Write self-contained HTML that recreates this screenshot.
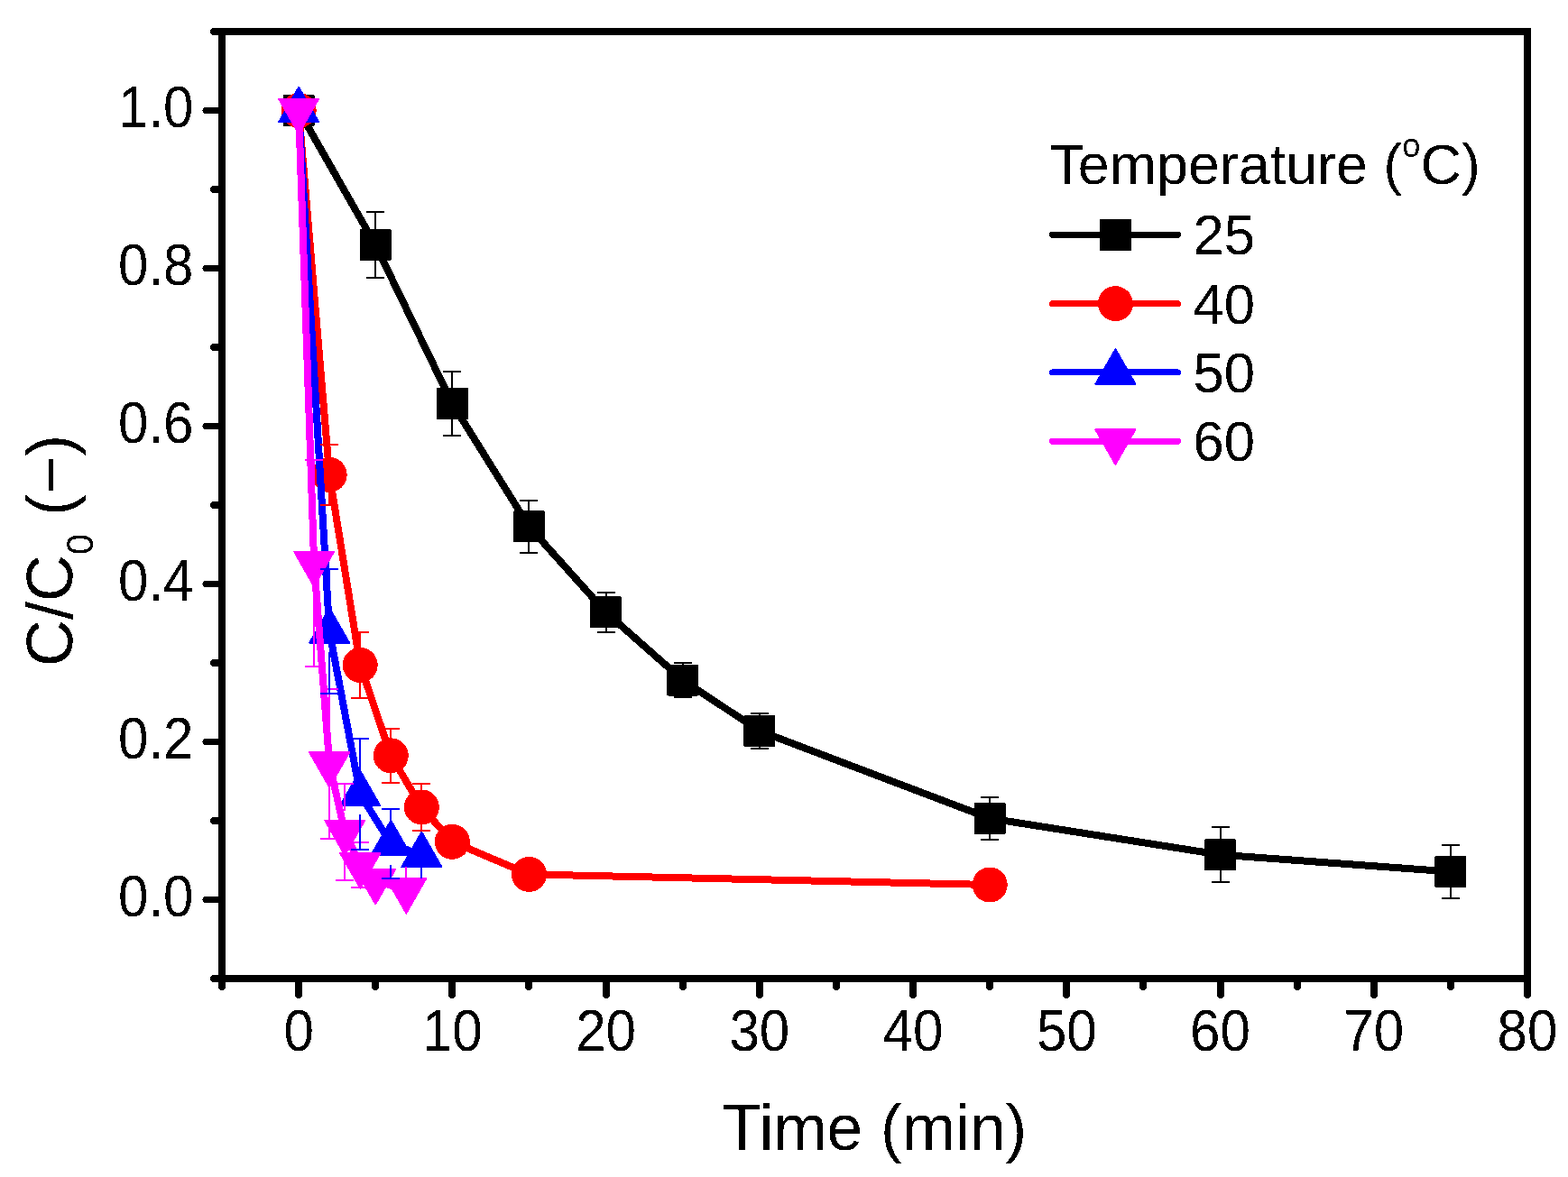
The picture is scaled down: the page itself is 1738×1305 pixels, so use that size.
<!DOCTYPE html>
<html><head><meta charset="utf-8"><title>C/C0 vs Time</title>
<style>
html,body{margin:0;padding:0;background:#fff;}
body{width:1738px;height:1305px;overflow:hidden;}
svg{display:block;}
</style></head>
<body>
<svg width="1738" height="1305" viewBox="0 0 1738 1305" shape-rendering="crispEdges">
<rect x="0" y="0" width="1738" height="1305" fill="#fff"/>
<defs><filter id="alias" x="-5%" y="-5%" width="110%" height="110%" color-interpolation-filters="sRGB"><feComponentTransfer><feFuncA type="discrete" tableValues="0 1"/></feComponentTransfer></filter></defs>
<g stroke="#000" stroke-width="8" fill="none" stroke-linecap="round">
<rect x="246.0" y="35.0" width="1447.0" height="1050.0" stroke-linejoin="miter" stroke-linecap="butt"/>
<line x1="246.0" y1="997.5" x2="228.00" y2="997.5" stroke-width="7"/>
<line x1="246.0" y1="822.5" x2="228.00" y2="822.5" stroke-width="7"/>
<line x1="246.0" y1="647.5" x2="228.00" y2="647.5" stroke-width="7"/>
<line x1="246.0" y1="472.5" x2="228.00" y2="472.5" stroke-width="7"/>
<line x1="246.0" y1="297.5" x2="228.00" y2="297.5" stroke-width="7"/>
<line x1="246.0" y1="122.5" x2="228.00" y2="122.5" stroke-width="7"/>
<line x1="246.0" y1="1085.0" x2="237.00" y2="1085.0" stroke-width="8"/>
<line x1="246.0" y1="910.0" x2="237.00" y2="910.0" stroke-width="8"/>
<line x1="246.0" y1="735.0" x2="237.00" y2="735.0" stroke-width="8"/>
<line x1="246.0" y1="560.0" x2="237.00" y2="560.0" stroke-width="8"/>
<line x1="246.0" y1="385.0" x2="237.00" y2="385.0" stroke-width="8"/>
<line x1="246.0" y1="210.0" x2="237.00" y2="210.0" stroke-width="8"/>
<line x1="246.0" y1="35.0" x2="237.00" y2="35.0" stroke-width="8"/>
<line x1="331.0" y1="1085.0" x2="331.0" y2="1103.00" stroke-width="8"/>
<line x1="501.0" y1="1085.0" x2="501.0" y2="1103.00" stroke-width="8"/>
<line x1="672.0" y1="1085.0" x2="672.0" y2="1103.00" stroke-width="8"/>
<line x1="842.0" y1="1085.0" x2="842.0" y2="1103.00" stroke-width="8"/>
<line x1="1012.0" y1="1085.0" x2="1012.0" y2="1103.00" stroke-width="8"/>
<line x1="1182.0" y1="1085.0" x2="1182.0" y2="1103.00" stroke-width="8"/>
<line x1="1353.0" y1="1085.0" x2="1353.0" y2="1103.00" stroke-width="8"/>
<line x1="1523.0" y1="1085.0" x2="1523.0" y2="1103.00" stroke-width="8"/>
<line x1="1693.0" y1="1085.0" x2="1693.0" y2="1103.00" stroke-width="8"/>
<line x1="246.0" y1="1085.0" x2="246.0" y2="1094.00" stroke-width="8"/>
<line x1="416.0" y1="1085.0" x2="416.0" y2="1094.00" stroke-width="8"/>
<line x1="586.0" y1="1085.0" x2="586.0" y2="1094.00" stroke-width="8"/>
<line x1="757.0" y1="1085.0" x2="757.0" y2="1094.00" stroke-width="8"/>
<line x1="927.0" y1="1085.0" x2="927.0" y2="1094.00" stroke-width="8"/>
<line x1="1097.0" y1="1085.0" x2="1097.0" y2="1094.00" stroke-width="8"/>
<line x1="1267.0" y1="1085.0" x2="1267.0" y2="1094.00" stroke-width="8"/>
<line x1="1438.0" y1="1085.0" x2="1438.0" y2="1094.00" stroke-width="8"/>
<line x1="1608.0" y1="1085.0" x2="1608.0" y2="1094.00" stroke-width="8"/>
</g>
<g font-family="'Liberation Sans', Arial, Helvetica, sans-serif" font-size="65.0" fill="#000" filter="url(#alias)">
<text transform="translate(214.5,1016.35) scale(0.9246,1)" text-anchor="end">0.0</text>
<text transform="translate(214.5,841.35) scale(0.9246,1)" text-anchor="end">0.2</text>
<text transform="translate(214.5,666.35) scale(0.9246,1)" text-anchor="end">0.4</text>
<text transform="translate(214.5,491.35) scale(0.9246,1)" text-anchor="end">0.6</text>
<text transform="translate(214.5,316.35) scale(0.9246,1)" text-anchor="end">0.8</text>
<text transform="translate(214.5,141.35) scale(0.9246,1)" text-anchor="end">1.0</text>
<text transform="translate(331.12,1165.3) scale(0.9246,1)" text-anchor="middle">0</text>
<text transform="translate(501.35,1165.3) scale(0.9246,1)" text-anchor="middle">10</text>
<text transform="translate(671.59,1165.3) scale(0.9246,1)" text-anchor="middle">20</text>
<text transform="translate(841.82,1165.3) scale(0.9246,1)" text-anchor="middle">30</text>
<text transform="translate(1012.06,1165.3) scale(0.9246,1)" text-anchor="middle">40</text>
<text transform="translate(1182.29,1165.3) scale(0.9246,1)" text-anchor="middle">50</text>
<text transform="translate(1352.53,1165.3) scale(0.9246,1)" text-anchor="middle">60</text>
<text transform="translate(1522.76,1165.3) scale(0.9246,1)" text-anchor="middle">70</text>
<text transform="translate(1693.00,1165.3) scale(0.9246,1)" text-anchor="middle">80</text>
</g>
<text filter="url(#alias)" transform="translate(800.5,1274.5) scale(0.99,1)" font-family="'Liberation Sans', Arial, Helvetica, sans-serif" font-size="72">Time (min)</text>
<text filter="url(#alias)" transform="translate(80.2,739.2) rotate(-90)" font-family="'Liberation Sans', Arial, Helvetica, sans-serif" font-size="72">C/C<tspan font-size="41.8" dy="23">0</tspan><tspan dy="-23"> (−)</tspan></text>
<polyline points="331.12,122.50 416.24,271.70 501.35,447.50 586.47,583.90 671.59,678.90 756.71,754.00 841.82,810.40 1097.18,907.40 1352.53,947.70 1607.88,966.50" fill="none" stroke="#000000" stroke-width="8" stroke-linejoin="round" stroke-linecap="round"/>
<rect x="313.62" y="105.00" width="35.0" height="35.0" rx="1.5" fill="#000000"/><rect x="398.74" y="254.20" width="35.0" height="35.0" rx="1.5" fill="#000000"/><rect x="483.85" y="430.00" width="35.0" height="35.0" rx="1.5" fill="#000000"/><rect x="568.97" y="566.40" width="35.0" height="35.0" rx="1.5" fill="#000000"/><rect x="654.09" y="661.40" width="35.0" height="35.0" rx="1.5" fill="#000000"/><rect x="739.21" y="736.50" width="35.0" height="35.0" rx="1.5" fill="#000000"/><rect x="824.32" y="792.90" width="35.0" height="35.0" rx="1.5" fill="#000000"/><rect x="1079.68" y="889.90" width="35.0" height="35.0" rx="1.5" fill="#000000"/><rect x="1335.03" y="930.20" width="35.0" height="35.0" rx="1.5" fill="#000000"/><rect x="1590.38" y="949.00" width="35.0" height="35.0" rx="1.5" fill="#000000"/>
<polyline points="331.12,122.50 365.16,526.40 399.21,737.40 433.26,837.80 467.31,894.90 501.35,933.30 586.47,969.40 1097.18,981.00" fill="none" stroke="#ff0000" stroke-width="8" stroke-linejoin="round" stroke-linecap="round"/>
<circle cx="331.12" cy="122.50" r="19.5" fill="#ff0000"/><circle cx="365.16" cy="526.40" r="19.5" fill="#ff0000"/><circle cx="399.21" cy="737.40" r="19.5" fill="#ff0000"/><circle cx="433.26" cy="837.80" r="19.5" fill="#ff0000"/><circle cx="467.31" cy="894.90" r="19.5" fill="#ff0000"/><circle cx="501.35" cy="933.30" r="19.5" fill="#ff0000"/><circle cx="586.47" cy="969.40" r="19.5" fill="#ff0000"/><circle cx="1097.18" cy="981.00" r="19.5" fill="#ff0000"/>
<polyline points="331.12,122.50 365.16,699.90 399.21,880.40 433.26,935.50 467.31,948.30" fill="none" stroke="#0000ff" stroke-width="8" stroke-linejoin="round" stroke-linecap="round"/>
<polygon points="331.12,96.83 353.12,135.33 309.12,135.33" fill="#0000ff" stroke="#0000ff" stroke-width="2" stroke-linejoin="round"/><polygon points="365.16,674.23 387.16,712.73 343.16,712.73" fill="#0000ff" stroke="#0000ff" stroke-width="2" stroke-linejoin="round"/><polygon points="399.21,854.73 421.21,893.23 377.21,893.23" fill="#0000ff" stroke="#0000ff" stroke-width="2" stroke-linejoin="round"/><polygon points="433.26,909.83 455.26,948.33 411.26,948.33" fill="#0000ff" stroke="#0000ff" stroke-width="2" stroke-linejoin="round"/><polygon points="467.31,922.63 489.31,961.13 445.31,961.13" fill="#0000ff" stroke="#0000ff" stroke-width="2" stroke-linejoin="round"/>
<polyline points="331.12,122.50 348.14,624.40 365.16,847.00 382.19,922.40 399.21,959.00 416.24,976.60 450.28,986.90" fill="none" stroke="#ff00ff" stroke-width="8" stroke-linejoin="round" stroke-linecap="round"/>
<polygon points="331.12,148.17 353.12,109.67 309.12,109.67" fill="#ff00ff" stroke="#ff00ff" stroke-width="2" stroke-linejoin="round"/><polygon points="348.14,650.07 370.14,611.57 326.14,611.57" fill="#ff00ff" stroke="#ff00ff" stroke-width="2" stroke-linejoin="round"/><polygon points="365.16,872.67 387.16,834.17 343.16,834.17" fill="#ff00ff" stroke="#ff00ff" stroke-width="2" stroke-linejoin="round"/><polygon points="382.19,948.07 404.19,909.57 360.19,909.57" fill="#ff00ff" stroke="#ff00ff" stroke-width="2" stroke-linejoin="round"/><polygon points="399.21,984.67 421.21,946.17 377.21,946.17" fill="#ff00ff" stroke="#ff00ff" stroke-width="2" stroke-linejoin="round"/><polygon points="416.24,1002.27 438.24,963.77 394.24,963.77" fill="#ff00ff" stroke="#ff00ff" stroke-width="2" stroke-linejoin="round"/><polygon points="450.28,1012.57 472.28,974.07 428.28,974.07" fill="#ff00ff" stroke="#ff00ff" stroke-width="2" stroke-linejoin="round"/>
<g stroke="#000000" stroke-width="2.0" fill="none"><line x1="416.24" y1="254.20" x2="416.24" y2="235.40"/><line x1="406.24" y1="235.40" x2="426.24" y2="235.40"/><line x1="416.24" y1="289.20" x2="416.24" y2="308.00"/><line x1="406.24" y1="308.00" x2="426.24" y2="308.00"/><line x1="501.35" y1="430.00" x2="501.35" y2="412.40"/><line x1="491.35" y1="412.40" x2="511.35" y2="412.40"/><line x1="501.35" y1="465.00" x2="501.35" y2="482.60"/><line x1="491.35" y1="482.60" x2="511.35" y2="482.60"/><line x1="586.47" y1="566.40" x2="586.47" y2="554.90"/><line x1="576.47" y1="554.90" x2="596.47" y2="554.90"/><line x1="586.47" y1="601.40" x2="586.47" y2="612.90"/><line x1="576.47" y1="612.90" x2="596.47" y2="612.90"/><line x1="671.59" y1="661.40" x2="671.59" y2="656.90"/><line x1="661.59" y1="656.90" x2="681.59" y2="656.90"/><line x1="671.59" y1="696.40" x2="671.59" y2="700.90"/><line x1="661.59" y1="700.90" x2="681.59" y2="700.90"/><line x1="756.71" y1="736.50" x2="756.71" y2="735.00"/><line x1="746.71" y1="735.00" x2="766.71" y2="735.00"/><line x1="756.71" y1="771.50" x2="756.71" y2="773.00"/><line x1="746.71" y1="773.00" x2="766.71" y2="773.00"/><line x1="841.82" y1="792.90" x2="841.82" y2="791.00"/><line x1="831.82" y1="791.00" x2="851.82" y2="791.00"/><line x1="841.82" y1="827.90" x2="841.82" y2="829.80"/><line x1="831.82" y1="829.80" x2="851.82" y2="829.80"/><line x1="1097.18" y1="889.90" x2="1097.18" y2="883.90"/><line x1="1087.18" y1="883.90" x2="1107.18" y2="883.90"/><line x1="1097.18" y1="924.90" x2="1097.18" y2="930.90"/><line x1="1087.18" y1="930.90" x2="1107.18" y2="930.90"/><line x1="1352.53" y1="930.20" x2="1352.53" y2="917.10"/><line x1="1342.53" y1="917.10" x2="1362.53" y2="917.10"/><line x1="1352.53" y1="965.20" x2="1352.53" y2="978.30"/><line x1="1342.53" y1="978.30" x2="1362.53" y2="978.30"/><line x1="1607.88" y1="949.00" x2="1607.88" y2="936.80"/><line x1="1597.88" y1="936.80" x2="1617.88" y2="936.80"/><line x1="1607.88" y1="984.00" x2="1607.88" y2="996.20"/><line x1="1597.88" y1="996.20" x2="1617.88" y2="996.20"/></g>
<g stroke="#ff0000" stroke-width="2.0" fill="none"><line x1="365.16" y1="506.90" x2="365.16" y2="493.00"/><line x1="355.16" y1="493.00" x2="375.16" y2="493.00"/><line x1="365.16" y1="545.90" x2="365.16" y2="559.80"/><line x1="355.16" y1="559.80" x2="375.16" y2="559.80"/><line x1="399.21" y1="717.90" x2="399.21" y2="701.00"/><line x1="389.21" y1="701.00" x2="409.21" y2="701.00"/><line x1="399.21" y1="756.90" x2="399.21" y2="773.80"/><line x1="389.21" y1="773.80" x2="409.21" y2="773.80"/><line x1="433.26" y1="818.30" x2="433.26" y2="807.80"/><line x1="423.26" y1="807.80" x2="443.26" y2="807.80"/><line x1="433.26" y1="857.30" x2="433.26" y2="867.80"/><line x1="423.26" y1="867.80" x2="443.26" y2="867.80"/><line x1="467.31" y1="875.40" x2="467.31" y2="868.90"/><line x1="457.31" y1="868.90" x2="477.31" y2="868.90"/><line x1="467.31" y1="914.40" x2="467.31" y2="920.90"/><line x1="457.31" y1="920.90" x2="477.31" y2="920.90"/></g>
<g stroke="#ff00ff" stroke-width="2.0" fill="none"><line x1="348.14" y1="601.40" x2="348.14" y2="509.90"/><line x1="338.14" y1="509.90" x2="358.14" y2="509.90"/><line x1="348.14" y1="647.40" x2="348.14" y2="738.90"/><line x1="338.14" y1="738.90" x2="358.14" y2="738.90"/><line x1="365.16" y1="824.00" x2="365.16" y2="763.90"/><line x1="355.16" y1="763.90" x2="375.16" y2="763.90"/><line x1="365.16" y1="870.00" x2="365.16" y2="930.10"/><line x1="355.16" y1="930.10" x2="375.16" y2="930.10"/><line x1="382.19" y1="899.40" x2="382.19" y2="868.70"/><line x1="372.19" y1="868.70" x2="392.19" y2="868.70"/><line x1="382.19" y1="945.40" x2="382.19" y2="976.10"/><line x1="372.19" y1="976.10" x2="392.19" y2="976.10"/><line x1="399.21" y1="936.00" x2="399.21" y2="933.90"/><line x1="389.21" y1="933.90" x2="409.21" y2="933.90"/><line x1="399.21" y1="982.00" x2="399.21" y2="984.10"/><line x1="389.21" y1="984.10" x2="409.21" y2="984.10"/><line x1="450.28" y1="974.00" x2="450.28" y2="961.00"/></g>
<g stroke="#0000ff" stroke-width="2.0" fill="none"><line x1="365.16" y1="676.90" x2="365.16" y2="631.10"/><line x1="355.16" y1="631.10" x2="375.16" y2="631.10"/><line x1="365.16" y1="722.90" x2="365.16" y2="768.70"/><line x1="355.16" y1="768.70" x2="375.16" y2="768.70"/><line x1="399.21" y1="857.40" x2="399.21" y2="819.00"/><line x1="389.21" y1="819.00" x2="409.21" y2="819.00"/><line x1="399.21" y1="903.40" x2="399.21" y2="941.80"/><line x1="389.21" y1="941.80" x2="409.21" y2="941.80"/><line x1="433.26" y1="912.50" x2="433.26" y2="897.00"/><line x1="423.26" y1="897.00" x2="443.26" y2="897.00"/><line x1="433.26" y1="958.50" x2="433.26" y2="974.00"/><line x1="423.26" y1="974.00" x2="443.26" y2="974.00"/><line x1="467.31" y1="961.00" x2="467.31" y2="973.50"/></g>
<text filter="url(#alias)" x="1163.4" y="204" font-family="'Liberation Sans', Arial, Helvetica, sans-serif" font-size="62.8">Temperature (<tspan font-size="36.4" dy="-29.8">o</tspan><tspan dy="29.8">C)</tspan></text>
<line x1="1166.5" y1="260.40" x2="1305.5" y2="260.40" stroke="#000000" stroke-width="7" stroke-linecap="round"/>
<rect x="1218.90" y="242.90" width="35.0" height="35.0" rx="1.5" fill="#000000"/>
<text filter="url(#alias)" transform="translate(1322.6,282.40) scale(0.978,1)" font-family="'Liberation Sans', Arial, Helvetica, sans-serif" font-size="63">25</text>
<line x1="1166.5" y1="336.67" x2="1305.5" y2="336.67" stroke="#ff0000" stroke-width="7" stroke-linecap="round"/>
<circle cx="1236.40" cy="336.67" r="19.5" fill="#ff0000"/>
<text filter="url(#alias)" transform="translate(1322.6,358.67) scale(0.978,1)" font-family="'Liberation Sans', Arial, Helvetica, sans-serif" font-size="63">40</text>
<line x1="1166.5" y1="412.94" x2="1305.5" y2="412.94" stroke="#0000ff" stroke-width="7" stroke-linecap="round"/>
<polygon points="1236.40,387.27 1258.40,425.77 1214.40,425.77" fill="#0000ff" stroke="#0000ff" stroke-width="2" stroke-linejoin="round"/>
<text filter="url(#alias)" transform="translate(1322.6,434.94) scale(0.978,1)" font-family="'Liberation Sans', Arial, Helvetica, sans-serif" font-size="63">50</text>
<line x1="1166.5" y1="489.21" x2="1305.5" y2="489.21" stroke="#ff00ff" stroke-width="7" stroke-linecap="round"/>
<polygon points="1236.40,514.88 1258.40,476.38 1214.40,476.38" fill="#ff00ff" stroke="#ff00ff" stroke-width="2" stroke-linejoin="round"/>
<text filter="url(#alias)" transform="translate(1322.6,511.21) scale(0.978,1)" font-family="'Liberation Sans', Arial, Helvetica, sans-serif" font-size="63">60</text>
</svg>
</body></html>
